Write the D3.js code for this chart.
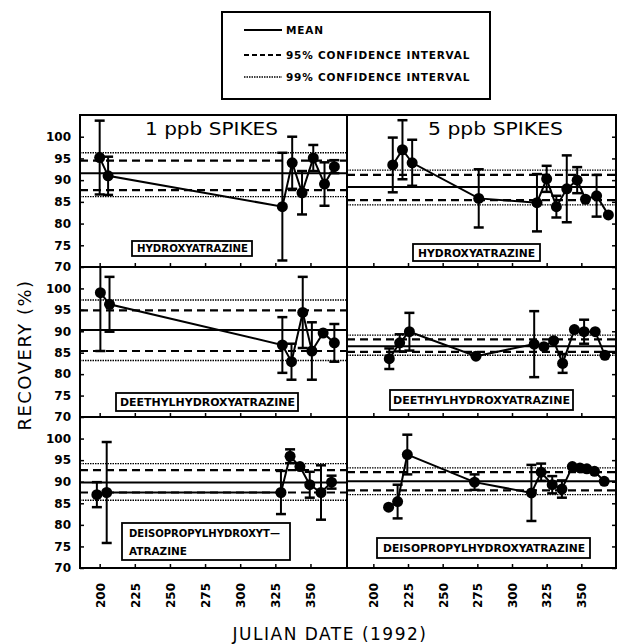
<!DOCTYPE html>
<html>
<head>
<meta charset="utf-8">
<script src="https://cdn.jsdelivr.net/npm/d3@7"></script>
<style>
  body { margin: 0; background: #fff; }
  text { fill: #000; }
</style>
</head>
<body>
<div id="chart"></div>
<script>
// tick values
const dayTicks = [200, 225, 250, 275, 300, 325, 350];
const recTicks = [70, 75, 80, 85, 90, 95, 100];
const spikeTitles = ["1 ppb SPIKES", "5 ppb SPIKES"];

// panel order: hyd1, hyd5, deet1, deet5, deis1, deis5
const meanRec = [91.6, 88.4, 90.3, 86.5, 89.8, 90.1];
const ci95Lo  = [87.7, 85.4, 85.4, 85.2, 87.5, 88.0];
const ci95Hi  = [94.5, 91.2, 94.9, 88.1, 92.7, 92.2];
const ci99Lo  = [86.2, 84.3, 83.2, 84.4, 85.7, 87.0];
const ci99Hi  = [96.3, 92.3, 97.3, 89.1, 94.2, 93.2];

// hydroxyatrazine
const hyd1Days = [200, 206, 330, 337, 344, 352, 360, 367];
const hyd1Rec  = [95.2, 91.0, 83.9, 94.0, 87.1, 95.1, 89.1, 93.1];
const hyd1Err  = [8.5, 4.4, 12.4, 6.0, 5.0, 3.0, 5.0, 1.5];
const hyd5Days = [214, 221, 228, 276, 318, 325, 332, 339.5, 347, 353, 361, 369.5];
const hyd5Rec  = [93.5, 97.0, 94.0, 85.8, 84.8, 90.3, 83.9, 88.0, 90.0, 85.6, 86.4, 82.0];
const hyd5Err  = [6.3, 6.8, 5.3, 6.7, 6.6, 3.0, 2.5, 7.7, 3.0, 0, 4.8, 0];

// deethylhydroxyatrazine
const deet1Days = [200.5, 207, 330, 336.5, 344.5, 351, 359, 367];
const deet1Rec  = [99.0, 96.3, 86.8, 82.9, 94.4, 85.4, 89.6, 87.3];
const deet1Err  = [13.6, 6.4, 6.5, 4.2, 8.3, 6.7, 0, 4.4];
const deet5Days = [211.5, 219, 226, 274, 316, 323, 330, 336.5, 345, 352, 360, 367];
const deet5Rec  = [83.6, 87.3, 89.9, 84.2, 87.0, 86.4, 87.8, 82.5, 90.4, 89.9, 89.9, 84.4];
const deet5Err  = [2.4, 2.0, 4.4, 0, 7.7, 0, 0, 2.2, 0, 2.8, 0, 0];

// deisopropylhydroxyatrazine
const deis1Days = [198, 205, 329, 335.5, 342.5, 349.5, 357.5, 365];
const deis1Rec  = [87.0, 87.5, 87.5, 95.9, 93.5, 89.3, 87.5, 89.9];
const deis1Err  = [2.9, 11.7, 5.0, 1.6, 0, 3.0, 6.3, 1.5];
const deis5Days = [211, 217.5, 224.5, 273, 314, 321, 329, 336, 343.5, 349, 354, 359.5, 366.5];
const deis5Rec  = [84.1, 85.4, 96.3, 89.9, 87.4, 92.2, 89.3, 88.3, 93.5, 93.2, 93.0, 92.4, 90.1];
const deis5Err  = [0, 3.9, 4.6, 1.8, 6.5, 2.0, 2.0, 2.0, 0, 0, 0, 0, 0];

const series = [
  [hyd1Days, hyd1Rec, hyd1Err], [hyd5Days, hyd5Rec, hyd5Err],
  [deet1Days, deet1Rec, deet1Err], [deet5Days, deet5Rec, deet5Err],
  [deis1Days, deis1Rec, deis1Err], [deis5Days, deis5Rec, deis5Err]
];

const W = 618, H = 644;
const colX = [[80, 347], [347, 616]];
const rowY = [[115, 267], [267, 417], [417, 568]];
const xDom = [[186, 376], [181, 375]];
const tickFont = "'DejaVu Sans', sans-serif";

const svg = d3.select("#chart").append("svg")
  .attr("width", W).attr("height", H);

// label boxes: [x, y, w, h, lines, text x, baselines, text lengths]
const boxes = [
  { r: [132, 241, 120, 15], lines: ["HYDROXYATRAZINE"], tx: 137, ty: [252], tl: [111] },
  { r: [413, 244, 127, 17], lines: ["HYDROXYATRAZINE"], tx: 418, ty: [256.5], tl: [117] },
  { r: [116, 393, 182, 18], lines: ["DEETHYLHYDROXYATRAZINE"], tx: 120, ty: [406], tl: [175] },
  { r: [390, 390, 183, 20], lines: ["DEETHYLHYDROXYATRAZINE"], tx: 393, ty: [404], tl: [177] },
  { r: [122, 523, 168, 37], lines: ["DEISOPROPYLHYDROXYT\u2014", "ATRAZINE"], tx: 129, ty: [537, 555], tl: [151, 58] },
  { r: [377, 538, 213, 20], lines: ["DEISOPROPYLHYDROXYATRAZINE"], tx: 383, ty: [552], tl: [202] }
];

for (let r = 0; r < 3; r++) {
  for (let c = 0; c < 2; c++) {
    const i = r * 2 + c;
    const x = d3.scaleLinear().domain(xDom[c]).range(colX[c]);
    const y = d3.scaleLinear().domain([70, 105]).range([rowY[r][1], rowY[r][0]]);
    const g = svg.append("g");

    const clipId = "clip" + i;
    svg.append("clipPath").attr("id", clipId).append("rect")
      .attr("x", colX[c][0]).attr("y", rowY[r][0])
      .attr("width", colX[c][1] - colX[c][0]).attr("height", rowY[r][1] - rowY[r][0]);

    const plot = g.append("g").attr("clip-path", `url(#${clipId})`);

    // reference lines
    const refLines = [
      [ci99Lo[i], 1.4, "1.5,1"], [ci99Hi[i], 1.4, "1.5,1"],
      [ci95Lo[i], 2.2, "8,5"], [ci95Hi[i], 2.2, "8,5"],
      [meanRec[i], 2, null]
    ];
    refLines.forEach(([v, w, dash]) => {
      plot.append("line")
        .attr("x1", colX[c][0]).attr("x2", colX[c][1])
        .attr("y1", y(v)).attr("y2", y(v))
        .attr("stroke", "#000").attr("stroke-width", w)
        .attr("stroke-dasharray", dash);
    });

    const [days, rec, err] = series[i];
    const pts = days.map((d, k) => ({ d: d, v: rec[k], e: err[k] }));

    plot.append("path")
      .datum(pts)
      .attr("fill", "none").attr("stroke", "#000").attr("stroke-width", 2)
      .attr("d", d3.line().x(p => x(p.d)).y(p => y(p.v)));

    const eb = plot.selectAll(".eb").data(pts.filter(p => p.e > 0)).enter().append("g");
    eb.append("line")
      .attr("x1", p => x(p.d)).attr("x2", p => x(p.d))
      .attr("y1", p => y(p.v - p.e)).attr("y2", p => y(p.v + p.e))
      .attr("stroke", "#000").attr("stroke-width", 2);
    [-1, 1].forEach(s => {
      eb.append("line")
        .attr("x1", p => x(p.d) - 5).attr("x2", p => x(p.d) + 5)
        .attr("y1", p => y(p.v + s * p.e)).attr("y2", p => y(p.v + s * p.e))
        .attr("stroke", "#000").attr("stroke-width", 2.5);
    });

    plot.selectAll("circle").data(pts).enter().append("circle")
      .attr("cx", p => x(p.d)).attr("cy", p => y(p.v))
      .attr("r", 5.5).attr("fill", "#000");

    // x ticks on the bottom edge of each panel
    const xAxis = g.append("g")
      .attr("transform", `translate(0,${rowY[r][1]})`)
      .call(d3.axisBottom(x).tickValues(dayTicks).tickSize(-4).tickFormat(r === 2 ? d3.format("d") : ""));
    xAxis.select(".domain").remove();
    xAxis.selectAll("line").attr("stroke-width", 1.5);
    if (r === 2) {
      xAxis.selectAll("text")
        .attr("transform", "rotate(-90)")
        .attr("x", -15).attr("y", 0).attr("dy", "0.36em")
        .attr("text-anchor", "end")
        .attr("font-family", tickFont).attr("font-weight", "bold")
        .attr("font-size", 12);
    }

    // y ticks
    if (c === 0) {
      const yAxis = g.append("g")
        .attr("transform", `translate(${colX[0][0]},0)`)
        .call(d3.axisLeft(y).tickValues(recTicks).tickSize(-4).tickPadding(9));
      yAxis.select(".domain").remove();
      yAxis.selectAll("line").attr("stroke-width", 1.5);
      yAxis.selectAll("text")
        .attr("font-family", tickFont).attr("font-weight", "bold")
        .attr("font-size", 12);
    } else {
      const yAxis = g.append("g")
        .attr("transform", `translate(${colX[1][1]},0)`)
        .call(d3.axisRight(y).tickValues(recTicks).tickSize(-4).tickFormat(""));
      yAxis.select(".domain").remove();
      yAxis.selectAll("line").attr("stroke-width", 1.5);
    }

    // compound label box
    const b = boxes[i];
    g.append("rect")
      .attr("x", b.r[0]).attr("y", b.r[1]).attr("width", b.r[2]).attr("height", b.r[3])
      .attr("fill", "#fff").attr("stroke", "#000").attr("stroke-width", 1.8);
    b.lines.forEach((t, k) => {
      g.append("text")
        .attr("x", b.tx).attr("y", b.ty[k])
        .attr("font-family", tickFont).attr("font-weight", "bold").attr("font-size", 10)
        .attr("textLength", b.tl[k]).attr("lengthAdjust", "spacingAndGlyphs")
        .text(t);
    });
  }
}

// panel frame
const frame = svg.append("g").attr("fill", "none").attr("stroke", "#000").attr("stroke-width", 2);
frame.append("rect").attr("x", colX[0][0]).attr("y", rowY[0][0])
  .attr("width", colX[1][1] - colX[0][0]).attr("height", rowY[2][1] - rowY[0][0]);
frame.append("line").attr("x1", colX[0][1]).attr("x2", colX[0][1])
  .attr("y1", rowY[0][0]).attr("y2", rowY[2][1]);
[rowY[0][1], rowY[1][1]].forEach(yy => {
  frame.append("line").attr("x1", colX[0][0]).attr("x2", colX[1][1])
    .attr("y1", yy).attr("y2", yy);
});

// panel titles
svg.append("text").attr("x", 145).attr("y", 135)
  .attr("font-family", "'DejaVu Sans', sans-serif").attr("font-size", 17)
  .attr("textLength", 133).attr("lengthAdjust", "spacingAndGlyphs")
  .text(spikeTitles[0]);
svg.append("text").attr("x", 428).attr("y", 135)
  .attr("font-family", "'DejaVu Sans', sans-serif").attr("font-size", 17)
  .attr("textLength", 135).attr("lengthAdjust", "spacingAndGlyphs")
  .text(spikeTitles[1]);

// axis titles
svg.append("text")
  .attr("transform", "translate(31,355) rotate(-90)")
  .attr("text-anchor", "middle")
  .attr("font-family", "'DejaVu Sans', sans-serif").attr("font-size", 18)
  .attr("letter-spacing", 1.5)
  .text("RECOVERY (%)");
svg.append("text")
  .attr("x", 330).attr("y", 640)
  .attr("text-anchor", "middle")
  .attr("font-family", "'DejaVu Sans', sans-serif").attr("font-size", 17)
  .attr("letter-spacing", 1.5)
  .text("JULIAN DATE (1992)");

// legend
const lg = svg.append("g");
lg.append("rect").attr("x", 222).attr("y", 12).attr("width", 268).attr("height", 87)
  .attr("fill", "none").attr("stroke", "#000").attr("stroke-width", 2);
const legendRows = [
  ["MEAN", null, 2, 30],
  ["95% CONFIDENCE INTERVAL", "5,3", 2, 55],
  ["99% CONFIDENCE INTERVAL", "1.5,1", 1.4, 77]
];
legendRows.forEach(([label, dash, w, yy]) => {
  lg.append("line").attr("x1", 244).attr("x2", 282).attr("y1", yy).attr("y2", yy)
    .attr("stroke", "#000").attr("stroke-width", w).attr("stroke-dasharray", dash);
  lg.append("text").attr("x", 286).attr("y", yy + 4)
    .attr("font-family", tickFont).attr("font-weight", "bold").attr("font-size", 10.5)
    .attr("letter-spacing", 0.8)
    .text(label);
});
</script>
</body>
</html>
